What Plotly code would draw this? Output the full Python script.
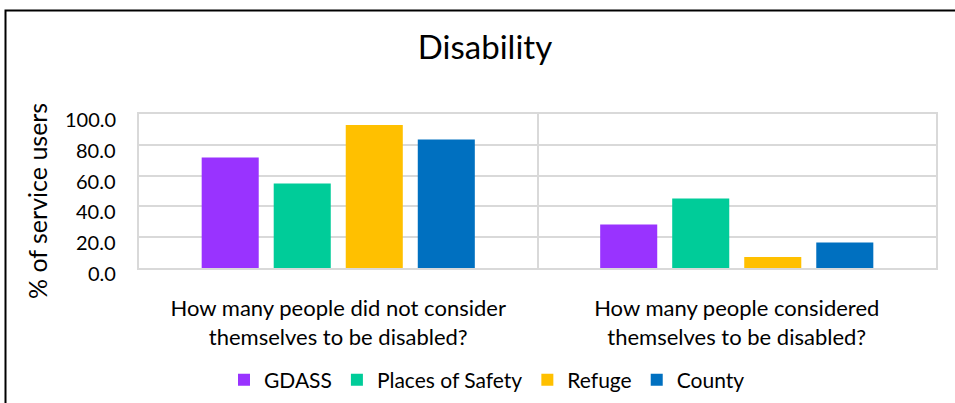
import plotly.graph_objects as go

categories = [
    "How many people did not consider<br>themselves to be disabled?",
    "How many people considered<br>themselves to be disabled?",
]
series_names = ["GDASS", "Places of Safety", "Refuge", "County"]
gdass = [71.8, 28.2]
places_of_safety = [54.8, 45.2]
refuge = [92.9, 7.1]
county = [83.5, 16.5]
y_ticks = [0, 20, 40, 60, 80, 100]
y_tick_labels = [f"{v:.1f}" for v in y_ticks]

colors = ["#9933FF", "#00CC99", "#FFC000", "#0070C0"]
values = [gdass, places_of_safety, refuge, county]

fig = go.Figure()
for name, vals, col in zip(series_names, values, colors):
    fig.add_trace(go.Bar(name=name, x=categories, y=vals, marker=dict(color=col, line=dict(width=0))))

W, H = 955, 403
L, R, T, B = 139, 19, 114, 135
pw, ph = W - L - R, H - T - B

def px_to_paper_x(px):
    return (px - L) / pw

def px_to_paper_y(py):
    return (H - B - py) / ph

FONT = "Lato"
GRID = "#d9d9d9"

annotations = [dict(text="% of service users", xref="paper", yref="paper",
                    x=px_to_paper_x(37), y=px_to_paper_y(201), showarrow=False, textangle=-90,
                    xanchor="center", yanchor="middle", font=dict(size=25, family=FONT))]
for v, lab in zip(y_ticks, y_tick_labels):
    annotations.append(dict(text=lab, xref="paper", yref="y", x=0, y=v, xanchor="right", yanchor="middle",
                            xshift=-21, yshift=-5, showarrow=False, font=dict(size=20, family=FONT)))

fig.update_layout(
    width=W, height=H,
    margin=dict(l=L, r=R, t=T, b=B, autoexpand=False),
    paper_bgcolor="white", plot_bgcolor="white",
    barmode="group", bargap=0.277, bargroupgap=0.208,
    font=dict(family=FONT, color="#000000"),
    title=dict(text="Disability", x=485 / W, xref="container", xanchor="center",
               y=1 - 47 / H, yref="container", yanchor="middle",
               font=dict(size=33, family=FONT, color="#000000")),
    yaxis=dict(range=[0, 100], tickvals=y_ticks, showticklabels=False, automargin=False,
               showgrid=True, gridcolor=GRID, gridwidth=1.5,
               zeroline=False, showline=True, linecolor=GRID, linewidth=1.5, mirror=True, ticks=""),
    xaxis=dict(type="category", tickson="boundaries", showgrid=True, gridcolor=GRID, gridwidth=1.5,
               showline=True, linecolor=GRID, linewidth=1.5, mirror=True, automargin=False,
               ticks="", tickfont=dict(size=22, family=FONT), ticklabelstandoff=20),
    legend=dict(orientation="h", x=487 / W, xref="container", xanchor="center",
                y=1 - 380 / H, yref="container", yanchor="middle",
                font=dict(size=21, family=FONT), itemwidth=30, traceorder="normal"),
    annotations=annotations,
    shapes=[dict(type="rect", xref="paper", yref="paper",
                 x0=px_to_paper_x(5.5), x1=px_to_paper_x(W + 20),
                 y0=px_to_paper_y(H + 20), y1=px_to_paper_y(10.5),
                 line=dict(color="#000000", width=2), fillcolor="rgba(0,0,0,0)", layer="above")],
)

fig.write_html("out.html")
